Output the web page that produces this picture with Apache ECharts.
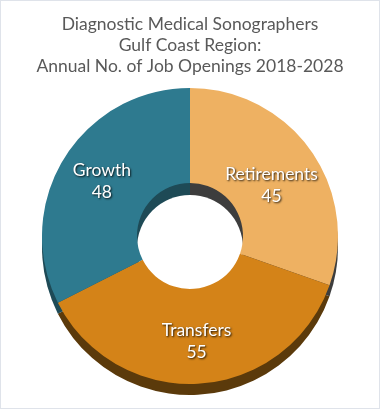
<!DOCTYPE html>
<html>
<head>
<meta charset="utf-8">
<script src="https://cdn.jsdelivr.net/npm/echarts@6/dist/echarts.min.js"></script>
<style>
html,body{margin:0;padding:0;background:#fff;}
#c{width:380px;height:409px;box-sizing:border-box;border:1px solid #dfe3ea;}
</style>
</head>
<body>
<div id="c"></div>
<script>
const titleLines = ['Diagnostic Medical Sonographers', 'Gulf Coast Region:', 'Annual No. of Job Openings 2018-2028'];
const categories = ['Retirements', 'Transfers', 'Growth'];
const values = [45, 55, 48];
const faceColors = ['#EEB162', '#D48318', '#2E7A8F'];
const sideColors = ['#3d3d3d', '#5b3a0b', '#1e4a56'];
const labelOffsets = [[-3, 9], [0, 2], [0, 0]];

const chart = echarts.init(document.getElementById('c'), null, {renderer: 'canvas'});
const font = 'Lato, "DejaVu Sans", sans-serif';

chart.setOption({
  animation: false,
  title: {
    text: titleLines.join('\n'),
    left: 'center',
    top: 8,
    textStyle: {fontFamily: font, fontSize: 17.5, fontWeight: 'normal', color: '#595959', lineHeight: 21}
  },
  series: [
    {
      type: 'pie', z: 1, silent: true,
      center: [189, 246], radius: [0, 148], startAngle: 90,
      label: {show: false}, labelLine: {show: false},
      data: categories.map((c, i) => ({name: c, value: values[i], itemStyle: {color: sideColors[i]}}))
    },
    {
      type: 'pie', z: 2, silent: true,
      center: [189, 247], radius: [0, 53], startAngle: 90,
      label: {show: false}, labelLine: {show: false},
      data: [{name: 'hole', value: 1, itemStyle: {color: '#ffffff'}}]
    },
    {
      type: 'pie', z: 3,
      center: [189, 235], radius: [53, 148], startAngle: 90,
      label: {
        show: true, position: 'inside',
        formatter: p => p.name + '\n' + p.value,
        fontFamily: font, fontSize: 17.5, color: '#ffffff', lineHeight: 22,
        textShadowColor: 'rgba(0,0,0,0.85)', textShadowBlur: 2, textShadowOffsetX: 1, textShadowOffsetY: 1
      },
      labelLine: {show: false},
      data: categories.map((c, i) => ({
        name: c, value: values[i],
        itemStyle: {color: faceColors[i]},
        label: {offset: labelOffsets[i]}
      }))
    }
  ]
});
</script>
</body>
</html>
